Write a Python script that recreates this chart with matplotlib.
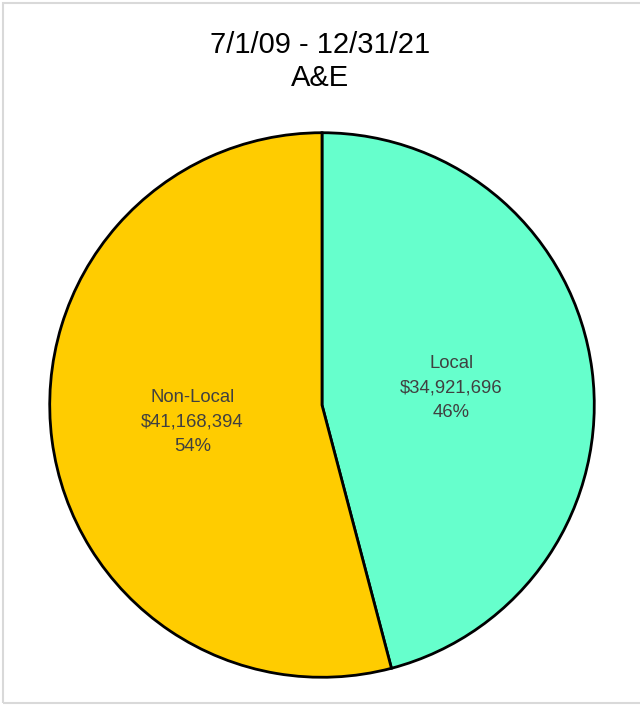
import matplotlib
matplotlib.use('agg')
import matplotlib.pyplot as plt
from matplotlib.patches import Rectangle

# data
categories = ['Local', 'Non-Local']
amounts = [34921696, 41168394]
colors = ['#66FFCC', '#FFCC00']
title_lines = ['7/1/09 - 12/31/21', 'A&E']

plt.rcParams['font.family'] = ['Liberation Sans', 'DejaVu Sans']

fig = plt.figure(figsize=(6.4, 7.05), dpi=100)
W, H = 640, 705

# light gray chart border (right side runs off the image)
fig.patches.append(Rectangle((2.5 / W, 2.0 / H), 1.05, (H - 5.0) / H,
                             transform=fig.transFigure, fill=False,
                             edgecolor='#d9d9d9', linewidth=1.5))

cx, cy, r = 322, 405, 275
ax = fig.add_axes([(cx - r) / W, (H - cy - r) / H, 2 * r / W, 2 * r / H])

total = sum(amounts)
labels = []
for name, v in zip(categories, amounts):
    labels.append('%s\n$%s\n%d%%' % (name, format(v, ','), round(v / total * 100)))

wedges, texts = ax.pie(amounts, colors=colors, startangle=90, counterclock=False,
                       labels=labels, labeldistance=0.48,
                       wedgeprops=dict(edgecolor='black', linewidth=2),
                       textprops=dict(fontsize=13.3, color='#404040'))
for t in texts:
    t.set_ha('center')
    t.set_va('center')
    t.set_multialignment('center')
    t.set_linespacing(1.6)

ax.set_xlim(-1.01, 1.01)
ax.set_ylim(-1.01, 1.01)
ax.set_aspect('equal')
ax.axis('off')

fig.text(0.5, 1 - 45 / H, title_lines[0], ha='center', va='center', fontsize=21, color='black')
fig.text(0.5, 1 - 78 / H, title_lines[1], ha='center', va='center', fontsize=21, color='black')

plt.savefig('out.png', dpi=100)
plt.close()
